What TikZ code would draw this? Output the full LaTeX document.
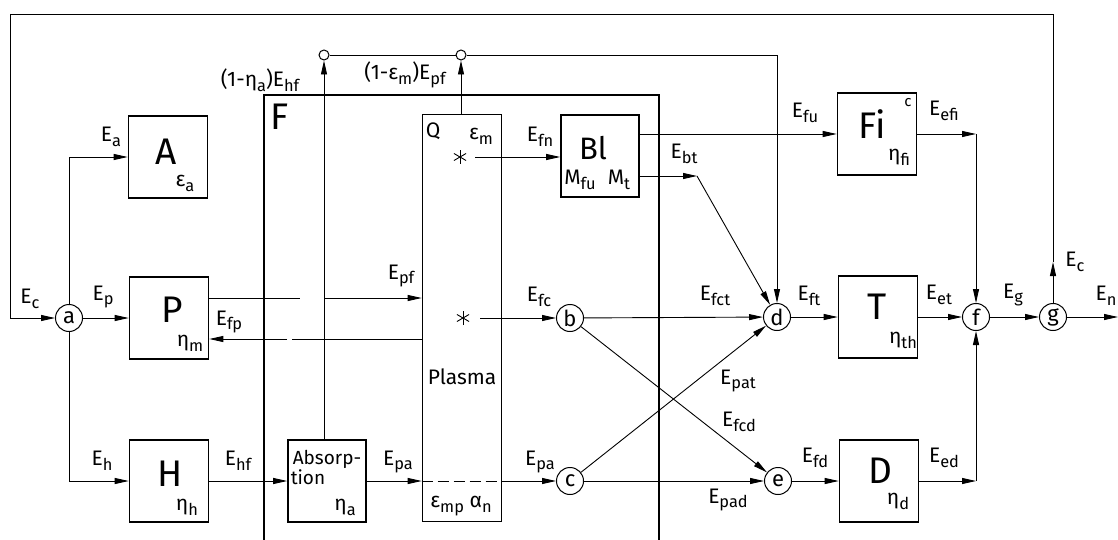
\documentclass[tikz,border=0pt]{standalone}
\usepackage{fontspec}
\setmainfont{Fira Sans}
\usetikzlibrary{arrows.meta}
\newcommand{\sub}[1]{\raisebox{-0.45ex}{\scalebox{0.78}{#1}}}
\newcommand{\Es}[1]{E\sub{#1}}
\tikzset{
	box/.style={draw, line width=1.6pt, minimum width=79pt, minimum height=82pt, inner sep=0pt},
	junc/.style={draw, circle, line width=1pt, minimum size=27pt, inner sep=0pt,
		font={\fontsize{22}{22}\selectfont}},
	tap/.style={draw, circle, line width=1pt, minimum size=10pt, inner sep=0pt, fill=white},
	big/.style={inner sep=0pt, font={\fontsize{37}{37}\selectfont}},
	lbl/.style={inner sep=0pt, font={\fontsize{21}{21}\selectfont}},
	wire/.style={line width=0.9pt},
	>={Triangle[length=14pt,width=6pt]},
}

\begin{document}
\begin{tikzpicture}[x=1pt, y=-1pt]
\useasboundingbox (0,0) rectangle (1118,540);

% fusion plant frame
\coordinate (Fbl) at (264,540);
\coordinate (Ftl) at (264,95);
\coordinate (Ftr) at (659,95);
\coordinate (Fbr) at (659,540);
\draw[line width=2.2pt] (Fbl) -- (Ftl) -- (Ftr) -- (Fbr);
\node[big] (Fname) at (280,117) {F};

% blocks
\node[box] (A) at (168,157) {};
\node[big] (A-t) at (166,152) {A};
\node[lbl] (A-s) at (185,183) {ε\sub{a}};
\node[box] (P) at (169,318) {};
\node[big] (P-t) at (172,310) {P};
\node[lbl] (P-s) at (190,343) {η\sub{m}};
\node[box] (H) at (169,481) {};
\node[big] (H-t) at (170,474) {H};
\node[lbl] (H-s) at (187,507) {η\sub{h}};
\node[box, minimum width=78pt] (Abs) at (327,481) {};
\node[lbl, font={\fontsize{19}{19}\selectfont}] (Abs-t1) at (327,459) {Absorp-};
\node[lbl, font={\fontsize{19}{19}\selectfont}] (Abs-t2) at (308,477) {tion};
\node[lbl] (Abs-s) at (345,507) {η\sub{a}};
\node[box, minimum height=407pt] (Plasma) at (462,318) {};
\node[lbl] (Q) at (433,131) {Q};
\node[lbl] (Q-s) at (481,136) {ε\sub{m}};
\node[lbl] (Pl-t) at (462,377) {Plasma};
\node[lbl] (Pl-s) at (461,506) {ε\sub{mp} α\sub{n}};
\node[inner sep=0pt, minimum size=14pt] (s1) at (460,157) {};
\node[inner sep=0pt, minimum size=14pt] (s2) at (463,318) {};
\foreach \s in {s1,s2}
	\foreach \an in {90,30,150}
		\draw[wire] ([shift={(\an:7)}]\s.center) -- ([shift={(\an+180:7)}]\s.center);
\node[box, minimum width=78pt] (Bl) at (600,156) {};
\node[inner sep=0pt, font={\fontsize{31}{31}\selectfont}] (Bl-t) at (593,148) {Bl};
\node[lbl] (Bl-s1) at (580,180) {M\sub{fu}};
\node[lbl] (Bl-s2) at (619,180) {M\sub{t}};
\node[box] (Fi) at (877,134) {};
\node[big] (Fi-t) at (872,124) {Fi};
\node[lbl] (Fi-s) at (899,157) {η\sub{fi}};
\node[inner sep=0pt, font={\fontsize{15}{15}\selectfont}] (Fi-c) at (908,103) {c};
\node[box] (T) at (878,317) {};
\node[big] (T-t) at (877,307) {T};
\node[lbl] (T-s) at (903,340) {η\sub{th}};
\node[box] (D) at (879,481) {};
\node[big] (D-t) at (880,471) {D};
\node[lbl] (D-s) at (898,501) {η\sub{d}};

% junctions
\node[junc] (a) at (69,318) {a};
\node[junc] (b) at (570,318) {b};
\node[junc] (c) at (570,481) {c};
\node[junc] (d) at (777,317) {d};
\node[junc] (e) at (778,481) {e};
\node[junc] (f) at (976,317) {f};
\node[junc] (g) at (1053,317) {g};
\node[tap] (tap1) at (324,55) {};
\node[tap] (tap2) at (461,55) {};

% helper points
\coordinate (tl) at (10,14);
\coordinate (tr) at (1053,14);
\coordinate (gc) at (1053,262);
\coordinate (out) at (1118,317);
\coordinate (pf1) at (300,298);
\coordinate (pf2) at (324,298);
\coordinate (fp1) at (287,339);
\coordinate (fp2) at (292,339);
\coordinate (bt) at (697,176);
\coordinate (efi) at (976,134);
\coordinate (ed) at (976,481);
\coordinate (dtop) at (777,55);

% connectors
\draw[wire,->] (g) -- (gc);
\draw[wire] (gc) -- (tr) -- (tl);
\draw[wire,->] (tl) |- (a);
\draw[wire,->] (a) |- (A.west);
\draw[wire,->] (a) -- (P);
\draw[wire,->] (a) |- (H.west);
\draw[wire] (P.east |- pf1) -- (pf1);
\draw[wire,->] (pf2) -- (Plasma.west |- pf2);
\draw[wire] (Plasma.west |- fp2) -- (fp2);
\draw[wire,->] (fp1) -- (P.east |- fp1);
\draw[wire,->] (H) -- (Abs);
\draw[wire,->] (Abs) -- (Plasma.west |- Abs);
\draw[wire, dash pattern=on 11pt off 5pt] (Plasma.west |- Abs) -- (Plasma.east |- Abs);
\draw[wire,->] (Plasma.east |- c) -- (c);
\draw[wire,->] (Abs.north -| tap1) -- (tap1);
\draw[wire,->] (Plasma.north -| tap2) -- (tap2);
\draw[wire] (tap1) -- (tap2);
\draw[wire,->] (tap2) -- (dtop) -- (d);
\draw[wire,->,shorten <=8pt] (s1) -- (Bl.west |- s1);
\draw[wire,->,shorten <=10pt] (s2) -- (b);
\draw[wire,->] (Bl.east |- Fi) -- (Fi);
\draw[wire,->] (Bl.east |- bt) -- (bt);
\draw[wire,->] (bt) -- (d);
\draw[wire,->] (Fi) -- (efi);
\draw[wire,->] (efi) -- (f);
\draw[wire,->] (b) -- (d);
\draw[wire,->] (b) -- (e);
\draw[wire,->] (c) -- (d);
\draw[wire,->] (c) -- (e);
\draw[wire,->] (d) -- (T);
\draw[wire,->] (T) -- (f);
\draw[wire,->] (f) -- (g);
\draw[wire,->] (g) -- (out);
\draw[wire,->] (e) -- (D);
\draw[wire,->] (D) -- (ed);
\draw[wire,->] (ed) -- (f);

% flow labels
\node[lbl] (l-Ec1) at (30,299) {\Es{c}};
\node[lbl] (l-Ep) at (103,297) {\Es{p}};
\node[lbl] (l-Ea) at (111,137) {\Es{a}};
\node[lbl] (l-Eh) at (102,461) {\Es{h}};
\node[lbl] (l-Ehf) at (238,461) {\Es{hf}};
\node[lbl] (l-Efp) at (229,322) {\Es{fp}};
\node[lbl] (l-Epf) at (401,276) {\Es{pf}};
\node[lbl] (l-Epa1) at (398,462) {\Es{pa}};
\node[lbl] (l-Epa2) at (540,462) {\Es{pa}};
\node[lbl] (l-Efc) at (539,297) {\Es{fc}};
\node[lbl] (l-Efn) at (540,137) {\Es{fn}};
\node[lbl] (l-Efu) at (805,113) {\Es{fu}};
\node[lbl] (l-Ebt) at (684,154) {\Es{bt}};
\node[lbl] (l-Eefi) at (944,111) {\Es{efi}};
\node[lbl] (l-Efct) at (715,296) {\Es{fct}};
\node[lbl] (l-Eft) at (809,296) {\Es{ft}};
\node[lbl] (l-Eet) at (939,295) {\Es{et}};
\node[lbl] (l-Eg) at (1013,295) {\Es{g}};
\node[lbl] (l-Ec2) at (1075,262) {\Es{c}};
\node[lbl] (l-En) at (1106,296) {\Es{n}};
\node[lbl] (l-Epat) at (738,381) {\Es{pat}};
\node[lbl] (l-Efcd) at (739,422) {\Es{fcd}};
\node[lbl] (l-Efd) at (815,458) {\Es{fd}};
\node[lbl] (l-Epad) at (728,500) {\Es{pad}};
\node[lbl] (l-Eed) at (944,458) {\Es{ed}};
\node[lbl] (l-loss1) at (260,80) {(1-η\sub{a})\Es{hf}};
\node[lbl] (l-loss2) at (405,75) {(1-ε\sub{m})\Es{pf}};
\end{tikzpicture}
\end{document}
